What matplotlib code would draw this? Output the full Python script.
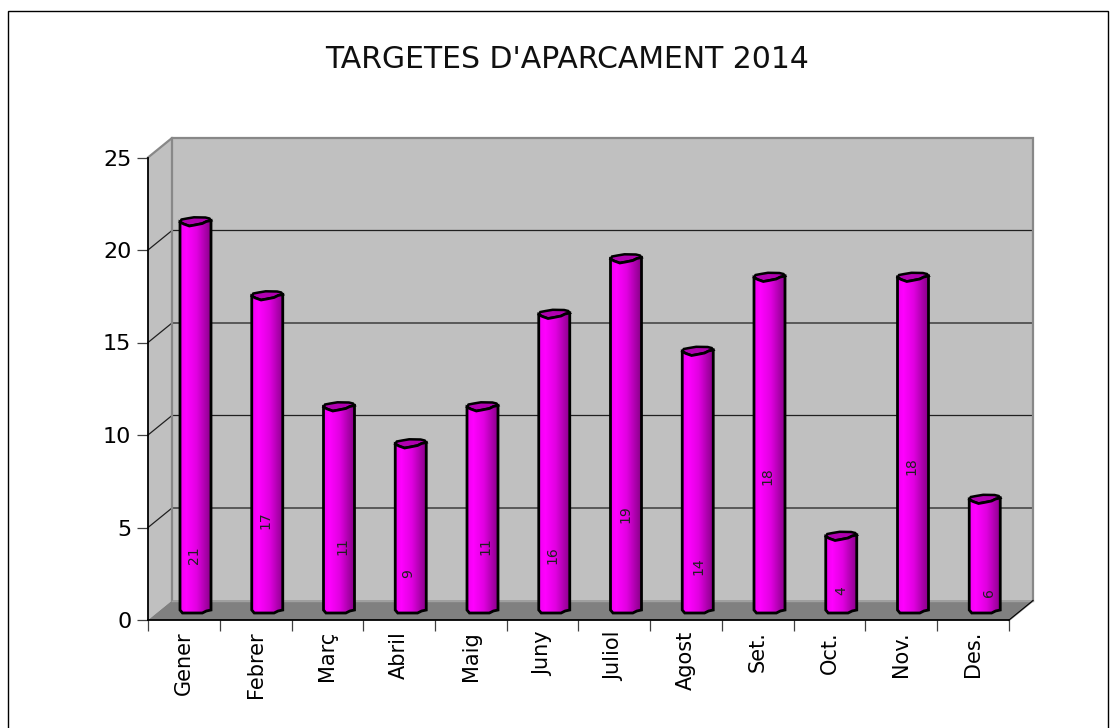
import numpy as np
import matplotlib
matplotlib.use("Agg")
import matplotlib.pyplot as plt
from matplotlib.patches import Polygon, Rectangle
from matplotlib.colors import LinearSegmentedColormap

months = ["Gener", "Febrer", "Març", "Abril", "Maig", "Juny", "Juliol", "Agost", "Set.", "Oct.", "Nov.", "Des."]
values = [21, 17, 11, 9, 11, 16, 19, 14, 18, 4, 18, 6]
title = "TARGETES D'APARCAMENT 2014"
yticks = [0, 5, 10, 15, 20, 25]

# placement of the value labels inside the bars
label_heights = [3.5, 5.4, 4.0, 2.5, 4.0, 3.5, 5.7, 2.9, 7.8, 1.6, 8.3, 1.5]
label_offsets = [14, 14, 19, 13, 18, 14, 15, 16, 13, 16, 14, 20]

W, H = 1117, 728
plt.rcParams['font.family'] = ['DejaVu Sans']
fig = plt.figure(figsize=(W / 100, H / 100), dpi=100, facecolor='white')

# outer frame
fig.add_artist(Rectangle((8 / W, -0.02), 1100 / W, 1.02 - 11 / H, transform=fig.transFigure,
                         fill=False, ec='black', lw=1.0))

L, R, T, B = 148, 1009, 157.5, 620
ax = fig.add_axes([L / W, 1 - B / H, (R - L) / W, (B - T) / H])
ax.set_xlim(0, 12)
ax.set_ylim(0, 25)
ax.patch.set_visible(False)
for s in ('top', 'right'):
    ax.spines[s].set_visible(False)
for s in ('left', 'bottom'):
    ax.spines[s].set_linewidth(1.3)
    ax.spines[s].set_zorder(6)

ux = 12 / (R - L)     # data units per pixel
uy = 25 / (B - T)
DX, DY = 24 * ux, 19.5 * uy   # full depth of the 3D box

# walls
ax.add_patch(Polygon([(0, 0), (DX, DY), (DX, 25 + DY), (0, 25)], fc='#c0c0c0', ec='none', zorder=1, clip_on=False))
ax.add_patch(Rectangle((DX, DY), 12, 25, fc='#c0c0c0', ec='none', zorder=1, clip_on=False))
ax.add_patch(Polygon([(0, 0), (12, 0), (12 + DX, DY), (DX, DY)], fc='#808080', ec='none', zorder=1, clip_on=False))

# gridlines
for v in yticks[1:-1]:
    ax.plot([0, DX, 12 + DX], [v, v + DY, v + DY], color='#202020', lw=0.9, zorder=2, clip_on=False)

# wall edges
ax.plot([0, DX, 12 + DX, 12 + DX, 12], [25, 25 + DY, 25 + DY, DY, 0], color='#888888', lw=1.6, zorder=2,
        clip_on=False, solid_joinstyle='miter')
ax.plot([DX, DX], [DY, 25 + DY], color='#888888', lw=1.6, zorder=2, clip_on=False)
ax.plot([DX, 12 + DX], [DY, DY], color='#a0a0a0', lw=1.0, zorder=2, clip_on=False)
ax.plot([12, 12 + DX], [0, DY], color='black', lw=0.8, zorder=2, clip_on=False)

# bars
cmap = LinearSegmentedColormap.from_list('mag', [(0, '#f000f0'), (0.2, '#ff00ff'), (0.55, '#e000e0'), (1, '#8a008a')])
grad = np.linspace(0, 1, 64).reshape(1, -1)
bw = 31 * ux
off_y = 7 * uy
for i, v in enumerate(values):
    x0 = i + 32 * ux
    x1 = x0 + bw
    y0 = off_y
    y1 = v + off_y
    px = lambda f: x0 + f * bw
    py = lambda d: y1 + d * uy
    wave = [(px(0.0), py(2.5)), (px(0.12), py(0.5)), (px(0.30), py(-1.5)), (px(0.48), py(-0.5)), (px(0.72), py(1.0)),
            (px(0.85), py(3.0)), (px(1.0), py(4.0))]
    outline = [(px(0.08), y0), (px(0.72), y0), (px(0.85), y0 + 2 * uy), (px(1.0), y0 + 3 * uy)] + wave[::-1] + \
              [(px(0.0), y0 + 3 * uy)]
    top = wave + [(px(0.95), py(6.0)), (px(0.82), py(7.0)), (px(0.45), py(7.2)), (px(0.22), py(6.0)), (px(0.05), py(5.0))]
    ax.add_patch(Polygon(top, fc='#b000b0', ec='black', lw=1.8, zorder=3, clip_on=False))
    im = ax.imshow(grad, extent=(x0, x1, y0, y1 + 5 * uy), cmap=cmap, aspect='auto', zorder=4, clip_on=True)
    ax.add_patch(Polygon(outline, fc='none', ec='black', lw=2.0, zorder=5, clip_on=False))
    im.set_clip_path(Polygon(outline, transform=ax.transData))
    ax.text(x0 + label_offsets[i] * ux, label_heights[i], str(v), rotation=90, ha='center', va='center',
            fontsize=10, color='#202020', zorder=7)
ax.set_xlim(0, 12)
ax.set_ylim(0, 25)
ax.set_aspect('auto')

# ticks
ax.set_xticks(range(13))
ax.set_xticklabels([])
ax.set_xticks(np.arange(12) + 0.5, months, minor=True, rotation=90, fontsize=15)
ax.tick_params(axis='x', which='major', length=8, width=0.9, color='#404040')
ax.tick_params(axis='x', which='minor', length=0, pad=8)
ax.set_yticks(yticks)
ax.set_yticklabels([str(v) for v in yticks], fontsize=16)
ax.tick_params(axis='y', length=8, width=0.9, color='#404040', pad=4)

fig.text(567 / W, 1 - 60 / H, title, ha='center', va='center', fontsize=21.5, color='#101010')
fig.savefig('out.png', dpi=100)
